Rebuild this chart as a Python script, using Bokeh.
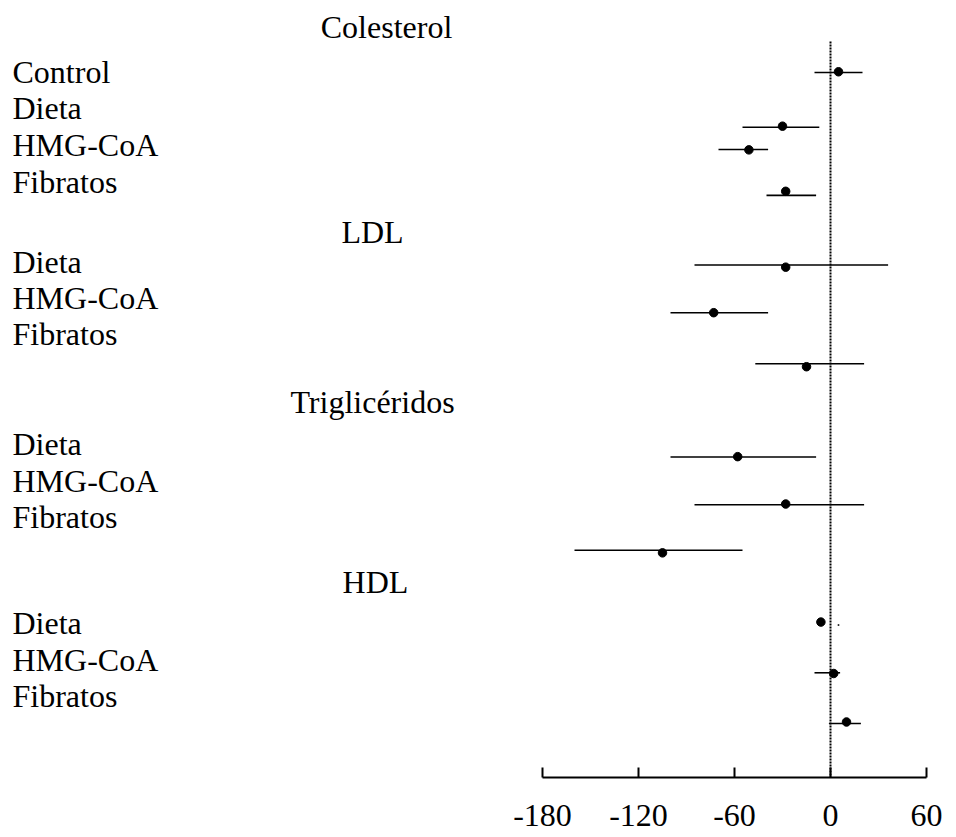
from bokeh.plotting import figure
from bokeh.models import Range1d, LinearAxis, FixedTicker, ColumnDataSource
from bokeh.core.properties import value
from bokeh.embed import file_html
from bokeh.resources import INLINE

# ---- data ----
groups = ["Colesterol", "LDL", "Triglicéridos", "HDL"]
group_rows = [0.49, 6.03, 10.62, 15.49]
group_x = [-277.5, -286.25, -286.25, -284.4]

labels = ["Control", "Dieta", "HMG-CoA", "Fibratos",
          "Dieta", "HMG-CoA", "Fibratos",
          "Dieta", "HMG-CoA", "Fibratos",
          "Dieta", "HMG-CoA", "Fibratos"]
label_rows = [1.72, 2.70, 3.70, 4.70,
              6.84, 7.83, 8.80,
              11.76, 12.76, 13.73,
              16.61, 17.60, 18.57]

estimate = [5, -30, -51, -28,
            -28, -73, -15,
            -58, -28, -105,
            -6, 2, 10]
lower = [-10, -55, -70, -40,
         -85, -100, -47,
         -100, -85, -160,
         4.5, -10, -1]
upper = [20, -7, -39, -9,
         36, -39, 21,
         -9, 21, -55,
         5.5, 6, 19]
est_rows = [1.71, 3.18, 3.82, 4.94,
            6.99, 8.22, 9.68,
            12.11, 13.39, 14.71,
            16.58, 17.97, 19.28]
ci_rows = [1.73, 3.21, 3.81, 5.05,
           6.93, 8.22, 9.60,
           12.12, 13.41, 14.64,
           16.66, 17.95, 19.32]

ticks = [-180, -120, -60, 0, 60]
tick_labels = {t: str(t) for t in ticks}
ref_value = [0]

FONT = "Liberation Serif"
FSIZE = "32px"

Y_TOP = -0.216
Y_BOTTOM = 20.78
LABEL_X = -511.25

p = figure(width=956, height=837,
           x_range=Range1d(-518.75, 78.75), y_range=Range1d(Y_BOTTOM, Y_TOP),
           output_backend="svg", toolbar_location=None,
           x_axis_location=None, y_axis_location=None,
           min_border=0, min_border_bottom=60)
p.outline_line_color = None
p.xgrid.visible = False
p.ygrid.visible = False
p.background_fill_color = "white"
p.border_fill_color = "white"

# reference line at 0
p.segment(x0=ref_value, y0=[0.89], x1=ref_value, y1=[Y_BOTTOM],
          line_color="black", line_width=2, line_dash="2 1")

# confidence intervals
ci_src = ColumnDataSource(dict(lo=lower, hi=upper, y=ci_rows))
p.segment(x0="lo", y0="y", x1="hi", y1="y", source=ci_src,
          line_color="black", line_width=1.6)

# point estimates
est_src = ColumnDataSource(dict(x=estimate, y=est_rows))
p.scatter(x="x", y="y", source=est_src, size=8.5, color="black")

# row labels
lab_src = ColumnDataSource(dict(x=[LABEL_X] * len(labels), y=label_rows, t=labels))
p.text(x="x", y="y", text="t", source=lab_src,
       text_font=value(FONT), text_font_size=value(FSIZE),
       text_align="left", text_baseline="middle", text_color="black")

# group headers
grp_src = ColumnDataSource(dict(x=group_x, y=group_rows, t=groups))
p.text(x="x", y="y", text="t", source=grp_src,
       text_font=value(FONT), text_font_size=value(FSIZE),
       text_align="center", text_baseline="middle", text_color="black")

# x axis
ax = LinearAxis(ticker=FixedTicker(ticks=ticks), bounds=(-180, 60))
ax.major_label_overrides = tick_labels
ax.major_tick_in = 10
ax.major_tick_out = 0
ax.minor_tick_in = 0
ax.minor_tick_out = 0
ax.axis_line_width = 2
ax.axis_line_color = "black"
ax.major_tick_line_width = 2
ax.major_tick_line_color = "black"
ax.major_label_text_font = FONT
ax.major_label_text_font_size = FSIZE
ax.major_label_text_line_height = 0.75
ax.major_label_text_color = "black"
ax.major_label_standoff = 27
p.add_layout(ax, "below")

open("out.html", "w").write(file_html(p, INLINE))
